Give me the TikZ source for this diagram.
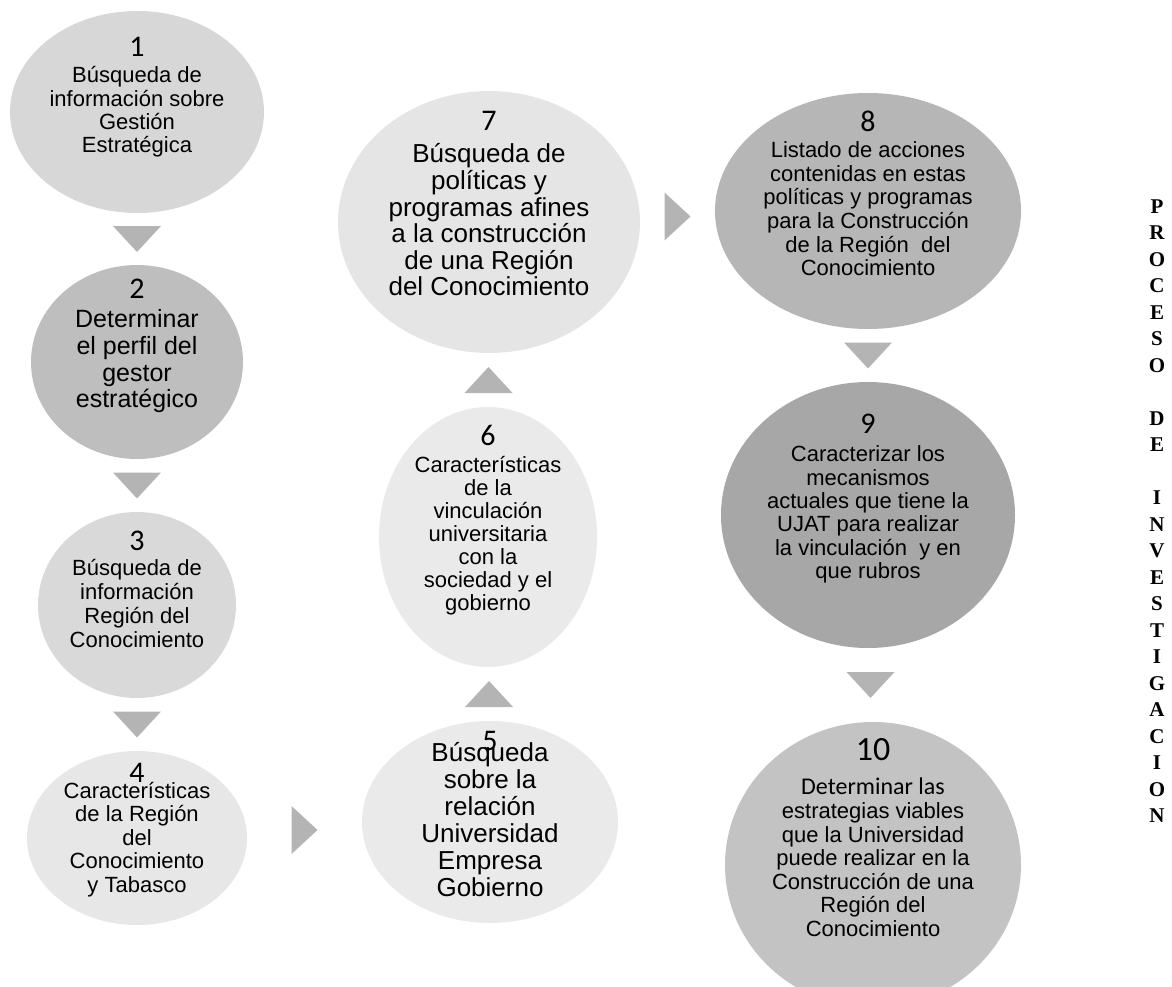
\documentclass[tikz,border=0pt]{standalone}
\usepackage{fontspec}
\setmainfont{Liberation Sans}
\newfontfamily\procnumfont{Carlito}
\newfontfamily\procserif{Liberation Serif}
\usepackage{tikz}
\usetikzlibrary{calc,shapes.geometric}
\definecolor{procarrow}{HTML}{B4B4B4}
\definecolor{procA}{HTML}{D7D7D7}
\definecolor{procB}{HTML}{BEBEBE}
\definecolor{procC}{HTML}{D9D9D9}
\definecolor{procD}{HTML}{E7E7E7}
\definecolor{procE}{HTML}{EAEAEA}
\definecolor{procF}{HTML}{EAEAEA}
\definecolor{procG}{HTML}{E5E5E5}
\definecolor{procH}{HTML}{B6B6B6}
\definecolor{procI}{HTML}{A7A7A7}
\definecolor{procJ}{HTML}{C3C3C3}
\tikzset{
 proc step/.style={ellipse,draw=none,inner sep=0pt,outer sep=0pt},
 proc num/.style={anchor=base,inner sep=0pt,
                  font=\procnumfont\fontsize{30}{30}\selectfont},
 proc text/.style 2 args={anchor=north,align=center,inner sep=0pt,
                  font=\fontsize{#1}{#2}\selectfont},
 proc arrow/.style={fill=procarrow},
 proc side/.style={anchor=north,align=center,inner sep=0pt,
                  font=\procserif\bfseries\fontsize{21}{26.5}\selectfont}
}
\begin{document}
\begin{tikzpicture}[x=1pt,y=-1pt]
 % pixel grid of the page, y running downwards; the ten steps snake
 % down the left column, up the middle one and down the right one.
 \useasboundingbox (0,0) rectangle (1172,987);
 \node[proc step,fill=procA,minimum width=254,minimum height=202] (c1) at (137,112) {};
 \node[proc step,fill=procB,minimum width=212,minimum height=194] (c2) at (137,362) {};
 \node[proc step,fill=procC,minimum width=198,minimum height=186] (c3) at (137,605) {};
 \node[proc step,fill=procD,minimum width=220,minimum height=174] (c4) at (137,838) {};
 \node[proc step,fill=procE,minimum width=256,minimum height=202] (c5) at (490,822) {};
 \node[proc step,fill=procF,minimum width=218,minimum height=260] (c6) at (488,537) {};
 \node[proc step,fill=procG,minimum width=302,minimum height=262] (c7) at (489,222) {};
 \node[proc step,fill=procH,minimum width=306,minimum height=236] (c8) at (868,211) {};
 \node[proc step,fill=procI,minimum width=294,minimum height=266] (c9) at (868,515) {};
 \node[proc step,fill=procJ,minimum width=296,minimum height=286] (c10) at (873,865) {};

 \foreach \a/\b in {c1/c2,c2/c3,c3/c4,c8/c9}
  \fill[proc arrow] ($(\a.south)!.5!(\b.north)$) +(-24,-13) -- +(24,-13) -- +(0,13) -- cycle;
 \fill[proc arrow] ($(c9.south)!.5!(c10.north)$) +(-24,-13) -- +(24,-13) -- +(0,13) -- cycle;
 \foreach \a/\b in {c5/c6,c6/c7}
  \fill[proc arrow] ($(\a.north)!.5!(\b.south)$) +(-24,13) -- +(24,13) -- +(0,-13) -- cycle;
 \foreach \a/\b in {c4/c5,c7/c8}
  \fill[proc arrow] ($(\a.east)!.5!(\b.west)$) +(-13,-24) -- +(-13,24) -- +(13,0) -- cycle;

 \node[proc num] (n1) at (137,57) {1};
 \node[proc num] (n2) at (137,298) {2};
 \node[proc num] (n3) at (137,550) {3};
 \node[proc num] (n4) at (137,782) {4};
 \node[proc num] (n5) at (490,750) {5};
 \node[proc num] (n6) at (488,445) {6};
 \node[proc num] (n7) at (489,131) {7};
 \node[proc num] (n8) at (868,132) {8};
 \node[proc num] (n9) at (868,433) {9};
 \node[proc num,font=\procnumfont\fontsize{34}{34}\selectfont] (n10) at (873,760) {10};

 \node[proc text={22}{23.3}] (t1) at (137,66.5)
  {Búsqueda de\\información sobre\\Gestión\\Estratégica};
 \node[proc text={25}{26.7}] (t2) at (137,309.5)
  {Determinar\\el perfil del\\gestor\\estratégico};
 \node[proc text={22}{23.7}] (t3) at (137,559.5)
  {Búsqueda de\\información\\Región del\\Conocimiento};
 \node[proc text={22}{23.5}] (t4) at (137,782)
  {Características\\de la Región\\del\\Conocimiento\\y Tabasco};
 \node[proc text={26}{27}] (t5) at (490,742.5)
  {Búsqueda\\sobre la\\relación\\Universidad\\Empresa\\Gobierno};
 \node[proc text={22}{23}] (t6) at (488,456.5)
  {Características\\de la\\vinculación\\universitaria\\con la\\sociedad y el\\gobierno};
 \node[proc text={26}{26.6}] (t7) at (489,143.5)
  {Búsqueda de\\políticas y\\programas afines\\a la construcción\\de una Región\\del Conocimiento};
 \node[proc text={22}{23.6}] (t8) at (868,141.5)
  {Listado de acciones\\contenidas en estas\\políticas y programas\\para la Construcción\\de la Región\ \ del\\Conocimiento};
 \node[proc text={22}{23.4}] (t9) at (868,445.5)
  {Caracterizar los\\mecanismos\\actuales que tiene la\\UJAT para realizar\\la vinculación\ \ y en\\que rubros};
 \node[proc text={22}{23.6}] (t10) at (873,778)
  {{\procnumfont\fontsize{24}{24}\selectfont Determinar las}\\estrategias viables\\que la Universidad\\puede realizar en la\\Construcción de una\\Región del\\Conocimiento};

 \node[proc side] (side) at (1157,199.5)
  {P\\R\\O\\C\\E\\S\\O\\[26.5pt]D\\E\\[26.5pt]I\\N\\V\\E\\S\\T\\I\\G\\A\\C\\I\\O\\N};
\end{tikzpicture}
\end{document}
